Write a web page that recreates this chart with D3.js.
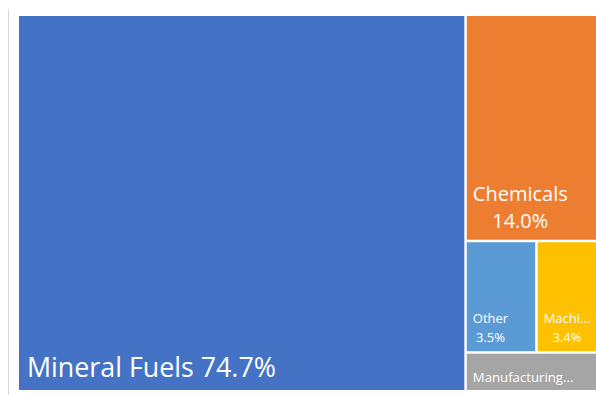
<!DOCTYPE html>
<html>
<head>
<meta charset="utf-8">
<script src="https://cdn.jsdelivr.net/npm/d3@7"></script>
<style>
  html, body { margin: 0; padding: 0; background: #ffffff; }
  svg { display: block; }
  .tile-label { fill: #ffffff; font-family: "Open Sans", "Noto Sans", sans-serif; }
</style>
</head>
<body>
<svg id="chart" width="596" height="395"></svg>
<script>
// Share of exports by product group (%)
const categories = ["Mineral Fuels", "Chemicals", "Other", "Machinery", "Manufacturing"];
const shares = [74.7, 14.0, 3.5, 3.4, 2.4];
const tileLabels = ["Mineral Fuels", "Chemicals", "Other", "Machi...", "Manufacturing..."];
const valueLabels = ["74.7%", "14.0%", "3.5%", "3.4%", ""];
const colors = ["#4472C4", "#ED7D31", "#5B9BD5", "#FFC000", "#A5A5A5"];

const svg = d3.select("#chart");

// plot-area border on the left
svg.append("line")
  .attr("x1", 8.5).attr("x2", 8.5)
  .attr("y1", 9).attr("y2", 395)
  .attr("stroke", "#d9d9d9").attr("stroke-width", 1);

const items = categories.map((c, i) => ({
  name: c, value: shares[i], label: tileLabels[i], valueLabel: valueLabels[i], color: colors[i], idx: i
}));

const root = d3.hierarchy({ children: items })
  .sum(d => d.value || 0)
  .sort((a, b) => b.value - a.value);

d3.treemap()
  .tile(d3.treemapSquarify.ratio(1))
  .size([585, 374])
  .paddingInner(2.5)
  .round(false)(root);

const g = svg.append("g").attr("transform", "translate(19,16)");

const cell = g.selectAll("g.cell")
  .data(root.leaves())
  .join("g")
  .attr("class", "cell");

cell.append("rect")
  .attr("x", d => d.x0)
  .attr("y", d => d.y0)
  .attr("width", d => d.x1 - d.x0)
  .attr("height", d => d.y1 - d.y0)
  .attr("fill", d => d.data.color);

// label styles per tile size
function labelStyle(d) {
  const i = d.data.idx;
  if (i === 0) return { size: 26.8, inline: true, dx: 8, base: 13 };
  if (i === 1) return { size: 20, inline: false, dx: 6, base: 11.5, gap: 27 };
  if (i === 4) return { size: 13.2, inline: true, dx: 6, base: 8 };
  return { size: 13, inline: false, dx: 6, base: 9, gap: 19 };
}

cell.each(function(d) {
  const s = labelStyle(d);
  const sel = d3.select(this);
  if (s.inline) {
    const txt = d.data.valueLabel ? d.data.label + " " + d.data.valueLabel : d.data.label;
    sel.append("text")
      .attr("class", "tile-label")
      .attr("x", d.x0 + s.dx)
      .attr("y", d.y1 - s.base)
      .attr("font-size", s.size)
      .text(txt);
  } else {
    // two centred lines in a left-anchored block
    const t1 = sel.append("text")
      .attr("class", "tile-label")
      .attr("font-size", s.size)
      .attr("y", d.y1 - s.base - s.gap)
      .text(d.data.label);
    const t2 = sel.append("text")
      .attr("class", "tile-label")
      .attr("font-size", s.size)
      .attr("y", d.y1 - s.base)
      .text(d.data.valueLabel);
    const w = Math.max(t1.node().getComputedTextLength(), t2.node().getComputedTextLength());
    const cx = d.x0 + s.dx + w / 2;
    t1.attr("x", cx).attr("text-anchor", "middle");
    t2.attr("x", cx).attr("text-anchor", "middle");
  }
});
</script>
</body>
</html>
